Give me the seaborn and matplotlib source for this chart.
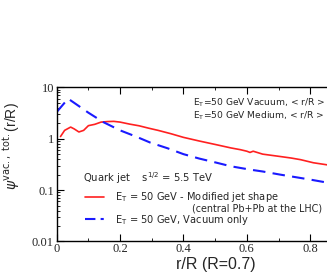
import numpy as np
import matplotlib
matplotlib.use("Agg")
import matplotlib.pyplot as plt
import seaborn as sns
from matplotlib.lines import Line2D
from matplotlib.ticker import LogLocator, MultipleLocator, FixedLocator, FixedFormatter

# vacuum-only jet shape (blue dashed)
r_vac = [0.0, 0.036, 0.07, 0.10, 0.147, 0.20, 0.25, 0.295, 0.35, 0.40, 0.45,
         0.505, 0.55, 0.61, 0.65, 0.705, 0.75, 0.80, 0.853]
psi_vac = [3.3, 6.0, 4.3, 3.2, 2.1, 1.45, 1.1, 0.84, 0.65, 0.50, 0.41,
           0.34, 0.29, 0.25, 0.23, 0.20, 0.18, 0.16, 0.14]

# modified jet shape in medium (red solid)
r_med = [0.012, 0.025, 0.044, 0.055, 0.07, 0.085, 0.10, 0.12, 0.14, 0.16, 0.18,
         0.20, 0.23, 0.26, 0.29, 0.32, 0.36, 0.40, 0.45, 0.505, 0.55, 0.58,
         0.60, 0.61, 0.62, 0.65, 0.705, 0.74, 0.77, 0.81, 0.853]
psi_med = [1.1, 1.45, 1.68, 1.55, 1.35, 1.45, 1.79, 1.9, 2.1, 2.15, 2.17,
           2.1, 1.92, 1.78, 1.6, 1.45, 1.25, 1.06, 0.9, 0.76, 0.66, 0.61,
           0.57, 0.54, 0.57, 0.50, 0.45, 0.42, 0.39, 0.34, 0.31]

y_ticks = [0.01, 0.1, 1, 10]
y_labels = ["0.01", "0.1", "1", "10"]
x_ticks = [0, 0.2, 0.4, 0.6, 0.8]
x_labels = ["0", "0.2", "0.4", "0.6", "0.8"]

RED = "#ff2020"
BLUE = "#1a1aff"

sns.set_style("ticks")
serif = "Liberation Serif"
sans = "Liberation Sans"
wide = "DejaVu Sans"

fig = plt.figure(figsize=(3.27, 2.73), dpi=100)
ax = fig.add_axes([0.1734, 0.1154, 0.8266, 0.565])

sns.lineplot(x=r_med, y=psi_med, ax=ax, color=RED, lw=1.2, sort=False)
sns.lineplot(x=r_vac, y=psi_vac, ax=ax, color=BLUE, lw=1.5, sort=False,
             dashes=False, linestyle=(0, (6, 3.5)))

ax.set_yscale("log")
ax.set_xlim(0, 0.853)
ax.set_ylim(0.01, 10)

ax.yaxis.set_major_locator(FixedLocator(y_ticks))
ax.yaxis.set_major_formatter(FixedFormatter(y_labels))
ax.yaxis.set_minor_locator(LogLocator(base=10, subs=np.arange(2, 10)))
ax.yaxis.set_minor_formatter(FixedFormatter([]))
ax.xaxis.set_major_locator(FixedLocator(x_ticks))
ax.xaxis.set_major_formatter(FixedFormatter(x_labels))
ax.xaxis.set_minor_locator(MultipleLocator(0.1))

ax.tick_params(which="both", direction="in", top=True, right=False, color="black")
ax.tick_params(which="major", length=5, width=0.8, labelsize=9, pad=1)
ax.tick_params(which="minor", length=2.5, width=0.6)
ax.tick_params(axis="y", pad=2)
for lab in ax.get_xticklabels() + ax.get_yticklabels():
    lab.set_family(serif)

for side in ["left", "bottom", "top"]:
    ax.spines[side].set_linewidth(1.0)
    ax.spines[side].set_color("black")
ax.spines["right"].set_visible(False)

ax.set_xlabel("r/R (R=0.7)", family=sans, fontsize=11.5)
ax.xaxis.set_label_coords(0.589, -0.10)
ax.set_ylabel(r"$\psi^{\mathrm{vac.,\ tot.}}$(r/R)", family=sans, fontsize=10)
ax.yaxis.set_label_coords(-0.13, 0.62)

# annotations
ax.text(0.505, 0.898, r"E$_\mathrm{T}$=50 GeV Vacuum, < r/R >", transform=ax.transAxes,
        family=wide, fontsize=6.6, va="center")
ax.text(0.505, 0.814, r"E$_\mathrm{T}$=50 GeV Medium, < r/R >", transform=ax.transAxes,
        family=wide, fontsize=6.6, va="center")
ax.text(0.096, 0.41, r"Quark jet    s$^{1/2}$ = 5.5 TeV", transform=ax.transAxes,
        family=wide, fontsize=7.2, va="center")

# legend drawn by hand to match the layout
ax.add_line(Line2D([0.105, 0.175], [0.286, 0.286], transform=ax.transAxes,
                   color=RED, lw=1.2))
ax.add_line(Line2D([0.105, 0.175], [0.146, 0.146], transform=ax.transAxes,
                   color=BLUE, lw=1.5, linestyle=(0, (5, 2.5, 1.5, 2.5))))
ax.text(0.216, 0.290, r"E$_\mathrm{T}$ = 50 GeV - Modified jet shape",
        transform=ax.transAxes, family=wide, fontsize=7.1, va="center")
ax.text(0.50, 0.212, "(central Pb+Pb at the LHC)",
        transform=ax.transAxes, family=wide, fontsize=6.9, va="center")
ax.text(0.216, 0.140, r"E$_\mathrm{T}$ = 50 GeV, Vacuum only",
        transform=ax.transAxes, family=wide, fontsize=7.1, va="center")

fig.savefig("out.png", dpi=100)
